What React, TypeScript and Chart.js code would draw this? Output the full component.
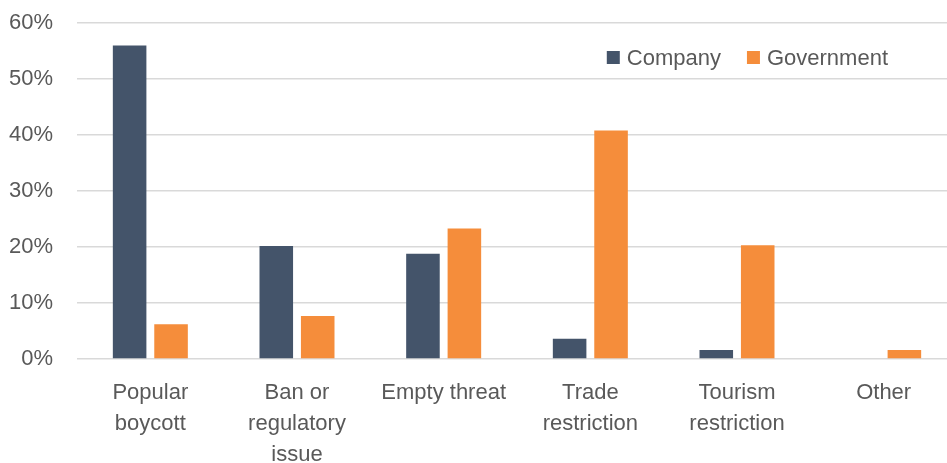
import React, { useEffect, useRef } from "react";
import { Chart, registerables } from "chart.js";

Chart.register(...registerables);

const categories: (string | string[])[] = [
  ["Popular", "boycott"],
  ["Ban or", "regulatory", "issue"],
  "Empty threat",
  ["Trade", "restriction"],
  ["Tourism", "restriction"],
  "Other",
];
const companyValues = [56.0, 20.2, 18.8, 3.6, 1.6, 0];
const governmentValues = [6.2, 7.7, 23.3, 40.8, 20.3, 1.6];
const seriesNames = ["Company", "Government"];
const seriesColors = ["#44546A", "#F58D3B"];
const yMin = 0;
const yMax = 60;
const yStep = 10;

const FONT_FAMILY = '"Liberation Sans", Arial, sans-serif';
const FONT_SIZE = 22;
const TEXT_COLOR = "#595959";

const insideLegend = {
  id: "insideLegend",
  afterDraw(chart: any) {
    const { ctx, chartArea } = chart;
    ctx.save();
    ctx.font = `${FONT_SIZE}px ${FONT_FAMILY}`;
    ctx.textBaseline = "middle";
    ctx.textAlign = "left";
    const box = 13;
    const gapText = 7;
    const gapItem = 26;
    const items = chart.data.datasets.map((ds: any) => ({
      label: ds.label,
      color: ds.backgroundColor,
      w: ctx.measureText(ds.label).width,
    }));
    let total = 0;
    items.forEach((it: any, i: number) => {
      total += box + gapText + it.w + (i > 0 ? gapItem : 0);
    });
    const rightEdge = chart.width - 69;
    let x = rightEdge - total;
    const y = chartArea.top + 34.5;
    items.forEach((it: any) => {
      ctx.fillStyle = it.color;
      ctx.fillRect(x, y - box / 2, box, box);
      x += box + gapText;
      ctx.fillStyle = TEXT_COLOR;
      ctx.fillText(it.label, x, y + 1);
      x += it.w + gapItem;
    });
    ctx.restore();
  },
};

export default function App() {
  const ref = useRef<HTMLCanvasElement | null>(null);

  useEffect(() => {
    if (!ref.current) return;
    const chart = new Chart(ref.current, {
      type: "bar",
      data: {
        labels: categories,
        datasets: [
          {
            label: seriesNames[0],
            data: companyValues,
            backgroundColor: seriesColors[0],
            categoryPercentage: 0.565,
            barPercentage: 0.81,
          },
          {
            label: seriesNames[1],
            data: governmentValues,
            backgroundColor: seriesColors[1],
            categoryPercentage: 0.565,
            barPercentage: 0.81,
          },
        ],
      },
      options: {
        responsive: false,
        animation: false,
        layout: { padding: { top: 23, right: 0, left: 0, bottom: 0 } },
        plugins: {
          legend: { display: false },
          tooltip: { enabled: false },
        },
        scales: {
          x: {
            grid: { display: false },
            border: { display: false },
            ticks: {
              color: TEXT_COLOR,
              font: { family: FONT_FAMILY, size: FONT_SIZE, lineHeight: 1.4 },
              padding: 11,
              maxRotation: 0,
              autoSkip: false,
            },
            afterFit: (scale: any) => {
              scale.height = 104;
            },
          },
          y: {
            min: yMin,
            max: yMax,
            grid: { color: "#D9D9D9", lineWidth: 1.5, drawTicks: false },
            border: { display: false },
            ticks: {
              stepSize: yStep,
              color: TEXT_COLOR,
              font: { family: FONT_FAMILY, size: FONT_SIZE },
              padding: 24,
              callback: (v: any) => `${v}%`,
            },
            afterFit: (scale: any) => {
              scale.width = 77;
              scale.paddingTop = 0;
              scale.paddingBottom = 0;
            },
          },
        },
      },
      plugins: [insideLegend],
    });
    return () => chart.destroy();
  }, []);

  return (
    <div
      style={{
        position: "absolute",
        left: 0,
        top: 0,
        width: 947,
        height: 463,
        overflow: "hidden",
        background: "#fff",
      }}
    >
      <canvas ref={ref} width={957} height={463} style={{ display: "block" }} />
    </div>
  );
}
